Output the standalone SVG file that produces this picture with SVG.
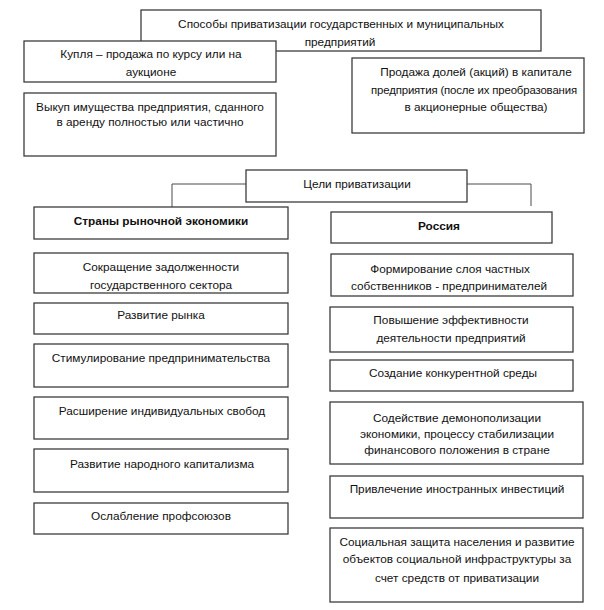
<svg xmlns="http://www.w3.org/2000/svg" width="604" height="610" viewBox="0 0 604 610">
<style>
rect{fill:#fff;stroke:#3c3c3c;stroke-width:1.3}
text{font-family:"Liberation Sans",Arial,sans-serif;font-size:11.8px;fill:#111;text-anchor:middle}
.b{font-weight:bold}
.c{fill:none;stroke:#4a4a4a;stroke-width:1}
</style>
<rect x="0" y="0" width="604" height="610" style="fill:#fff;stroke:none"/>
<g id="connectors">
<path class="c" d="M246,184 H172 V207"/>
<path class="c" d="M467,184 H531 V206"/>
</g>
<g id="sposoby"><rect x="141" y="10" width="400" height="41"/>
<text x="341" y="28">Способы приватизации государственных и муниципальных</text>
<text x="340" y="46">предприятий</text></g>
<g id="kuplya"><rect x="24" y="41" width="252" height="41"/>
<text x="151" y="58">Купля – продажа по курсу или на</text>
<text x="151" y="76">аукционе</text></g>
<g id="vykup"><rect x="24" y="93" width="252" height="63"/>
<text x="150" y="111">Выкуп имущества предприятия, сданного</text>
<text x="150" y="126">в аренду полностью или частично</text></g>
<g id="prodazha"><rect x="352" y="58" width="232" height="75"/>
<text x="476" y="76">Продажа долей (акций) в капитале</text>
<text x="474" y="94" style="font-size:11.4px" letter-spacing="-0.15">предприятия (после их преобразования</text>
<text x="476" y="111">в акционерные общества)</text></g>
<g id="celi"><rect x="246" y="170" width="221" height="32"/>
<text x="357" y="188">Цели приватизации</text></g>
<g id="strany"><rect x="34" y="207" width="254" height="32"/>
<text class="b" x="161" y="225">Страны рыночной экономики</text></g>
<g id="rossiya"><rect x="331" y="212" width="221" height="31"/>
<text class="b" x="439" y="230">Россия</text></g>
<g id="l1"><rect x="34" y="253" width="254" height="40"/>
<text x="161" y="271">Сокращение задолженности</text>
<text x="161" y="289">государственного сектора</text></g>
<g id="l2"><rect x="34" y="303" width="254" height="31"/>
<text x="161" y="319">Развитие рынка</text></g>
<g id="l3"><rect x="34" y="344" width="254" height="43"/>
<text x="161" y="362">Стимулирование предпринимательства</text></g>
<g id="l4"><rect x="34" y="397" width="254" height="42"/>
<text x="162" y="415">Расширение индивидуальных свобод</text></g>
<g id="l5"><rect x="34" y="449" width="254" height="43"/>
<text x="162" y="468">Развитие народного капитализма</text></g>
<g id="l6"><rect x="34" y="503" width="254" height="31"/>
<text x="161" y="520">Ослабление профсоюзов</text></g>
<g id="r1"><rect x="331" y="254" width="242" height="42"/>
<text x="450" y="273">Формирование слоя частных</text>
<text x="449" y="290">собственников - предпринимателей</text></g>
<g id="r2"><rect x="330" y="307" width="243" height="45"/>
<text x="451" y="324">Повышение эффективности</text>
<text x="451" y="342">деятельности предприятий</text></g>
<g id="r3"><rect x="330" y="360" width="243" height="31"/>
<text x="453" y="377">Создание конкурентной среды</text></g>
<g id="r4"><rect x="330" y="402" width="253" height="62"/>
<text x="457" y="422">Содействие демонополизации</text>
<text x="457" y="438">экономики, процессу стабилизации</text>
<text x="457" y="454">финансового положения в стране</text></g>
<g id="r5"><rect x="330" y="476" width="253" height="42"/>
<text x="457" y="493">Привлечение иностранных инвестиций</text></g>
<g id="r6"><rect x="330" y="528" width="253" height="74"/>
<text x="457" y="546">Социальная защита населения и развитие</text>
<text x="457" y="563">объектов социальной инфраструктуры за</text>
<text x="457" y="582">счет средств от приватизации</text></g>
</svg>
